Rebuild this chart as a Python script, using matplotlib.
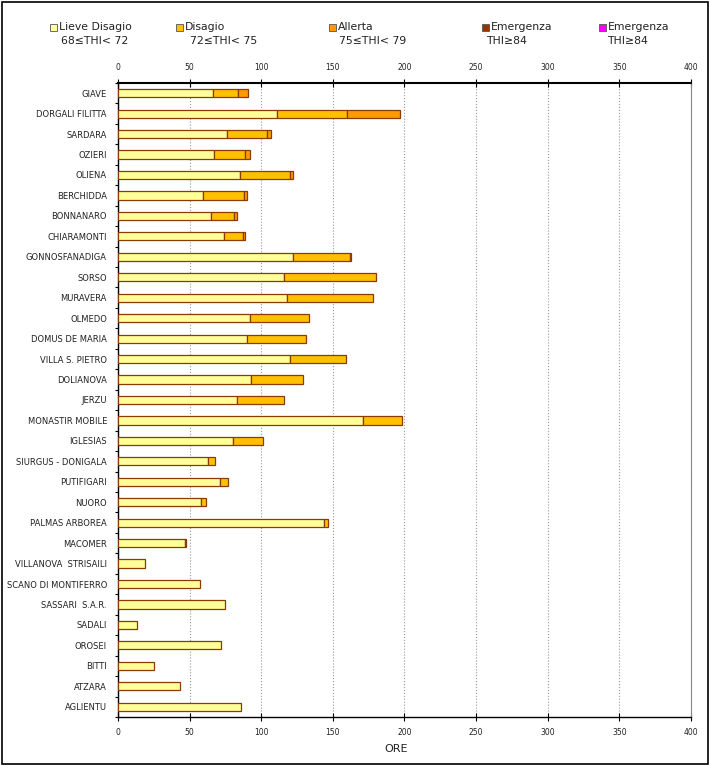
import numpy as np
import matplotlib.pyplot as plt
from matplotlib.patches import Rectangle

stazioni = ['GIAVE', 'DORGALI FILITTA', 'SARDARA', 'OZIERI', 'OLIENA', 'BERCHIDDA',
            'BONNANARO', 'CHIARAMONTI', 'GONNOSFANADIGA', 'SORSO', 'MURAVERA', 'OLMEDO',
            'DOMUS DE MARIA', 'VILLA S. PIETRO', 'DOLIANOVA', 'JERZU', 'MONASTIR MOBILE',
            'IGLESIAS', 'SIURGUS - DONIGALA', 'PUTIFIGARI', 'NUORO', 'PALMAS ARBOREA',
            'MACOMER', 'VILLANOVA  STRISAILI', 'SCANO DI MONTIFERRO', 'SASSARI  S.A.R.',
            'SADALI', 'OROSEI', 'BITTI', 'ATZARA', 'AGLIENTU']

lieve = [66, 111, 76, 67, 85, 59, 65, 74, 122, 116, 118, 92, 90, 120, 93, 83, 171,
         80, 63, 71, 58, 144, 47, 19, 57, 75, 13, 72, 25, 43, 86]
disagio = [18, 49, 28, 22, 35, 29, 16, 13, 40, 64, 60, 41, 41, 39, 36, 33, 27,
           21, 5, 5.5, 3.5, 2.5, 0, 0, 0, 0, 0, 0, 0, 0, 0]
allerta = [6.5, 37, 3, 3, 2, 2, 2, 2, 1, 0, 0, 0, 0, 0, 0, 0, 0,
           0, 0, 0, 0, 0, 0.8, 0, 0, 0, 0, 0, 0, 0, 0]
emergenza = [0] * len(stazioni)
emergenza2 = [0] * len(stazioni)

serie = [lieve, disagio, allerta, emergenza, emergenza2]
nomi = ['Lieve Disagio', 'Disagio', 'Allerta', 'Emergenza', 'Emergenza']
soglie = ['68\u2264THI< 72', '72\u2264THI< 75', '75\u2264THI< 79', 'THI\u226584', 'THI\u226584']
colori = ['#FFFF99', '#FFC000', '#FF9900', '#993300', '#FF00FF']
bordo = '#8B3A00'

xticks = [0, 50, 100, 150, 200, 250, 300, 350, 400]

fig = plt.figure(figsize=(7.1, 7.66), dpi=100)
ax = fig.add_axes([0.1662, 0.064, 0.807, 0.8277])

y = np.arange(len(stazioni))
left = np.zeros(len(stazioni))
for vals, col in zip(serie, colori):
    vals = np.array(vals, dtype=float)
    mask = vals > 0
    ax.barh(y[mask], vals[mask], left=left[mask], height=0.4, color=col,
            edgecolor=bordo, linewidth=0.9, zorder=3)
    left += vals

ax.set_ylim(len(stazioni) - 0.5, -0.5)
ax.set_xlim(0, 400)
ax.set_yticks(y)
ax.set_yticklabels(stazioni, fontsize=6, color='#222222')
ax.set_yticks(np.arange(-0.5, len(stazioni), 1), minor=True)
ax.tick_params(axis='y', which='major', length=0, pad=8)
ax.tick_params(axis='y', which='minor', length=2.5, direction='out', width=0.8)

ax.set_xticks(xticks)
ax.set_xticklabels([str(t) for t in xticks], fontsize=5.5, color='#222222')
ax.tick_params(axis='x', top=True, labeltop=True, direction='inout', length=6,
               width=0.8, pad=5)
ax.grid(axis='x', color='#999999', linestyle=':', linewidth=0.8, zorder=0)

ax.spines['top'].set_linewidth(1.5)
ax.spines['bottom'].set_linewidth(1.0)
ax.spines['left'].set_linewidth(1.0)
ax.spines['right'].set_color('#888888')
ax.set_xlabel('ORE', fontsize=8, color='#222222')
ax.xaxis.set_label_coords(0.485, -0.042)

# legenda in alto (posizioni in pixel della figura)
quad_x = [50, 176, 329, 482, 599]
riga2_x = [61, 190, 339, 486, 607]
W, H = 710, 766
for qx, tx, nome, soglia, col in zip(quad_x, riga2_x, nomi, soglie, colori):
    fig.patches.append(Rectangle((qx / W, 1 - 31 / H), 7 / W, 7 / H, transform=fig.transFigure,
                                 facecolor=col, edgecolor='#555555', linewidth=0.6))
    fig.text((qx + 9) / W, 1 - 27 / H, nome, fontsize=7.8, va='center', color='#222222')
    fig.text(tx / W, 1 - 40.5 / H, soglia, fontsize=7.8, va='center', color='#222222')

fig.patches.append(Rectangle((0.003, 0.003), 0.994, 0.994, transform=fig.transFigure,
                             fill=False, edgecolor='black', linewidth=1.2))

plt.savefig('out.png', dpi=100)
